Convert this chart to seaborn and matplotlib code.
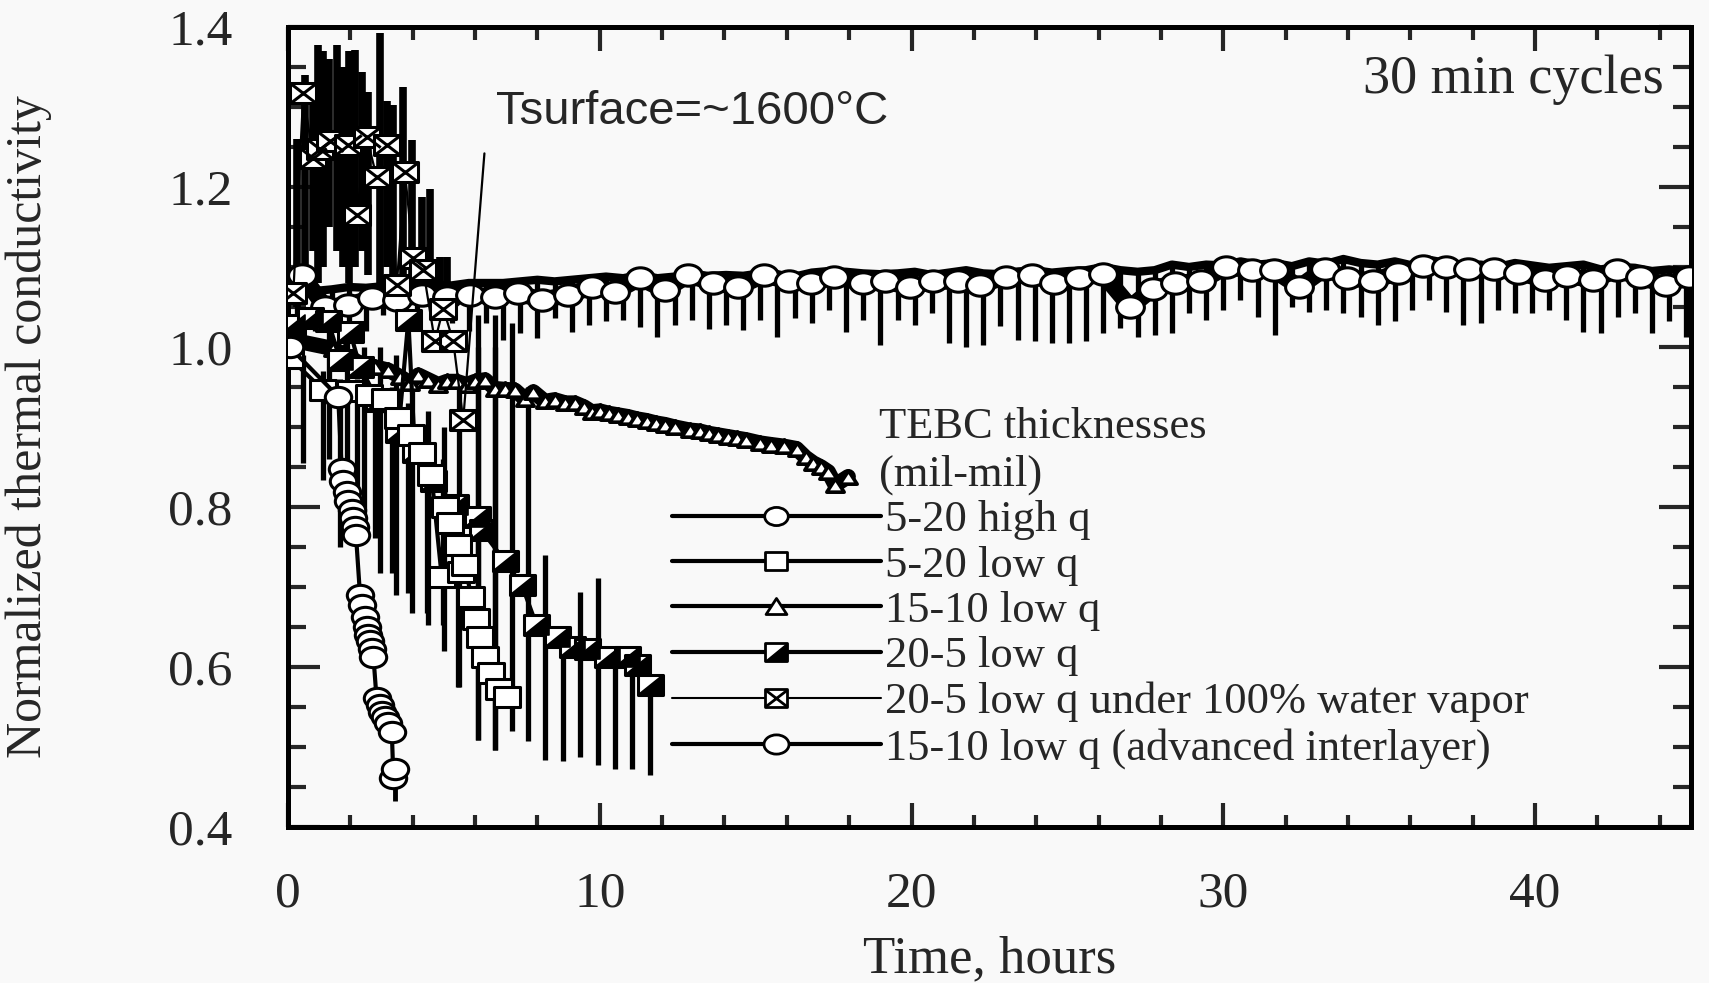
import numpy as np
import matplotlib
matplotlib.use("Agg")
import matplotlib.pyplot as plt
import seaborn as sns
from matplotlib.path import Path
from matplotlib.lines import Line2D
from matplotlib.legend_handler import HandlerTuple
from matplotlib.ticker import MultipleLocator, FormatStrFormatter

# ============================================================
# data (time in hours, normalized k)
# ============================================================
# 5-20 high q (small open circles)
hq_t = [0.05, 1.61, 1.72, 1.77, 1.88, 1.93, 2.04, 2.09, 2.15, 2.18, 2.31, 2.36, 2.47,
        2.52, 2.58, 2.63, 2.68, 2.74, 2.84, 2.95, 3.0, 3.11, 3.22, 3.33, 3.38, 3.43]
hq_v = [1.0, 0.938, 0.848, 0.832, 0.819, 0.807, 0.796, 0.786, 0.775, 0.765, 0.69, 0.678, 0.663,
        0.65, 0.64, 0.632, 0.623, 0.613, 0.561, 0.553, 0.544, 0.538, 0.53, 0.519, 0.461, 0.473]
hq_spk_t = [3.43]
hq_spk_lo = [0.432]
hq_spk_hi = [0.473]

# 5-20 low q (open squares)
sq_t = [0.06, 1.13, 2.0, 2.6, 3.11, 3.54, 3.95, 4.3, 4.6, 4.93, 5.03, 5.2, 5.45, 5.55,
        5.69, 5.87, 6.04, 6.15, 6.32, 6.5, 6.77, 7.02]
sq_v = [0.986, 0.946, 0.945, 0.94, 0.935, 0.911, 0.89, 0.867, 0.84, 0.713, 0.80, 0.78, 0.7525, 0.719,
        0.728, 0.687, 0.66, 0.637, 0.6125, 0.592, 0.573, 0.562]
sq_spk_t = [0.48, 1.13, 1.67, 2.2, 2.79, 3.33, 3.86, 4.45, 4.98, 5.46, 6.1, 6.64]
sq_spk_lo = [0.855, 0.834, 0.75, 0.78, 0.761, 0.717, 0.692, 0.667, 0.6525, 0.575, 0.509, 0.496]
sq_spk_hi = [0.99, 0.97, 0.96, 0.96, 0.95, 0.95, 0.93, 0.90, 0.86, 0.80, 1.0, 1.0]

# 15-10 low q (open triangles)
tri_t = [0.05, 0.33, 1.45, 2.3, 2.8, 3.22, 3.59, 3.91, 4.18, 4.5, 4.82, 5.1, 5.41, 5.73, 6.0,
         6.32, 6.64, 6.95, 7.28, 7.6, 7.87, 8.24, 8.55, 8.9, 9.2, 9.5, 9.74, 10.0, 10.3, 10.6,
         10.9, 11.2, 11.5, 11.8, 12.1, 12.4, 12.9, 13.2, 13.5, 13.8, 14.1, 14.4, 14.7, 15.14,
         15.5, 15.9, 16.31, 16.6, 16.85, 17.1, 17.33, 17.55, 17.97]
tri_v = [1.0, 1.007, 0.998, 0.98, 0.975, 0.971, 0.963, 0.955, 0.965, 0.959, 0.953, 0.957, 0.957,
         0.953, 0.957, 0.959, 0.948, 0.947, 0.946, 0.935, 0.944, 0.932, 0.934, 0.93, 0.93, 0.925,
         0.919, 0.92, 0.917, 0.915, 0.913, 0.91, 0.908, 0.905, 0.903, 0.90, 0.896, 0.895, 0.892,
         0.89, 0.888, 0.886, 0.884, 0.88, 0.878, 0.876, 0.873, 0.862, 0.855, 0.85, 0.844, 0.8275, 0.838]

# 20-5 low q (half filled squares)
hf_t = [0.12, 0.71, 1.29, 1.67, 1.99, 2.31, 2.9, 3.54, 3.86, 4.07, 4.66, 5.36, 6.05, 6.21,
        6.96, 7.5, 7.97, 8.62, 9.1, 9.58, 10.22, 10.86, 11.18, 11.61]
hf_v = [1.0275, 1.036, 1.032, 0.984, 1.019, 0.975, 0.932, 0.894, 1.034, 0.869, 0.832, 0.8025,
        0.788, 0.771, 0.732, 0.7025, 0.6525, 0.638, 0.625, 0.623, 0.613, 0.613, 0.6025, 0.5775]
hf_spk_t = [1.3, 1.9, 2.45, 2.95, 3.45, 3.97, 4.5, 5.0, 5.5, 6.1, 6.64, 7.2, 7.71, 8.24,
            8.83, 9.36, 9.95, 10.49, 11.02, 11.61]
hf_spk_lo = [0.86, 0.80, 0.763, 0.717, 0.69, 0.668, 0.652, 0.62, 0.575, 0.509, 0.496, 0.52,
             0.507, 0.484, 0.482, 0.488, 0.478, 0.473, 0.473, 0.465]
hf_spk_hi = [1.03, 1.03, 1.0, 1.0, 0.99, 0.95, 0.92, 0.90, 0.95, 1.04, 1.04, 1.03, 0.95,
             0.74, 0.64, 0.694, 0.711, 0.62, 0.615, 0.58]

# 20-5 low q under 100% water vapor (crossed squares)
wv_t = [0.17, 0.49, 0.81, 1.03, 1.35, 1.93, 2.2, 2.52, 2.84, 3.17, 3.49, 3.75, 4.02, 4.34,
        4.71, 4.98, 5.3, 5.62, 6.3]
wv_v = [1.067, 1.317, 1.236, 1.248, 1.257, 1.2525, 1.165, 1.263, 1.213, 1.2525, 1.0775, 1.219,
        1.111, 1.096, 1.007, 1.048, 1.007, 0.909, 1.242]
wv_spk_t = [0.3, 0.55, 0.8, 0.97, 1.13, 1.3, 1.56, 1.75, 1.95, 2.15, 2.36, 2.58, 2.95, 3.17,
            3.38, 3.7, 3.97, 4.29, 4.55, 4.87, 5.09]
wv_spk_hi = [1.26, 1.34, 1.33, 1.3775, 1.37, 1.36, 1.3775, 1.35, 1.37, 1.371, 1.344, 1.319,
             1.392, 1.307, 1.3025, 1.325, 1.259, 1.188, 1.198, 1.113, 1.113]
wv_spk_lo = [1.05, 1.1, 1.12, 1.08, 1.1, 1.15, 1.12, 1.10, 1.08, 1.1, 1.12, 1.09, 1.08, 1.1,
             1.06, 1.08, 1.07, 1.06, 1.05, 1.04, 1.04]

# 15-10 low q (advanced interlayer) (large open ovals)
adv_t = [0.44, 1.19, 1.93, 2.68, 3.49, 4.29, 5.09, 5.84, 6.64, 7.39, 8.14, 8.99, 9.74, 10.49,
         11.29, 12.09, 12.84, 13.64, 14.44, 15.26, 16.08, 16.79, 17.51, 18.43, 19.14, 19.96,
         20.68, 21.5, 22.21, 23.03, 23.85, 24.56, 25.38, 26.14, 27.02, 27.74, 28.45, 29.27,
         30.09, 30.91, 31.62, 32.44, 33.26, 33.97, 34.79, 35.61, 36.39, 37.15, 37.86, 38.68,
         39.46, 40.31, 41.03, 41.85, 42.63, 43.38, 44.2, 44.92]
adv_v = [1.09, 1.05, 1.0525, 1.061, 1.059, 1.065, 1.063, 1.065, 1.063, 1.067, 1.059, 1.065,
         1.075, 1.069, 1.086, 1.071, 1.09, 1.08, 1.075, 1.09, 1.082, 1.08, 1.088, 1.08, 1.082,
         1.075, 1.082, 1.082, 1.0775, 1.088, 1.09, 1.08, 1.086, 1.091, 1.05, 1.073, 1.08, 1.082,
         1.10, 1.096, 1.096, 1.075, 1.098, 1.086, 1.083, 1.093, 1.101, 1.10, 1.097, 1.097,
         1.093, 1.084, 1.089, 1.084, 1.096, 1.087, 1.0775, 1.087]
adv_spk_t = [0.3, 0.85, 1.4, 1.95, 2.5, 3.05, 3.6, 4.15, 4.7, 5.25, 5.8, 6.35, 6.9, 7.45, 8.0,
             8.55, 9.1, 9.65, 10.2, 10.75, 11.3, 11.85, 12.4, 12.95, 13.5, 14.05, 14.6, 15.15,
             15.7, 16.25, 16.8, 17.35, 17.9, 18.45, 19.0, 19.55, 20.1, 20.65, 21.2, 21.75, 22.3,
             22.85, 23.4, 23.95, 24.5, 25.05, 25.6, 26.15, 26.7, 27.25, 27.8, 28.35, 28.9, 29.45,
             30.0, 30.55, 31.1, 31.65, 32.2, 32.75, 33.3, 33.85, 34.4, 34.95, 35.5, 36.05, 36.6,
             37.15, 37.7, 38.25, 38.8, 39.35, 39.9, 40.45, 41.0, 41.55, 42.1, 42.65, 43.2, 43.75,
             44.3, 44.85]
adv_spk_lo = [1.03, 1.02, 1.04, 1.03, 1.02, 1.04, 1.03, 1.02, 1.04, 1.03, 1.02, 1.03,
              1.009, 1.017, 1.011, 1.036, 1.019, 1.028, 1.032, 1.034, 1.025, 1.013, 1.028, 1.034, 1.023,
              1.028, 1.021, 1.034, 1.013, 1.036, 1.03, 1.046, 1.019, 1.034,
              1.003, 1.034, 1.028, 1.042, 1.005, 1.0, 1.003, 1.026, 1.009, 1.007, 1.005, 1.005,
              1.007, 1.017, 1.024, 1.013, 1.015, 1.017, 1.042, 1.034, 1.046, 1.059, 1.038, 1.015,
              1.05, 1.044, 1.046, 1.042, 1.038, 1.028, 1.032, 1.046, 1.059, 1.044, 1.028, 1.03,
              1.046, 1.042, 1.042, 1.046, 1.034, 1.019, 1.017, 1.038, 1.042, 1.017, 1.032, 1.013]
adv_spk_hi = [1.075, 1.07, 1.072, 1.075, 1.074, 1.076, 1.077, 1.076, 1.078, 1.077, 1.08, 1.08,
              1.08, 1.082, 1.084, 1.082, 1.084, 1.086, 1.088, 1.086, 1.09, 1.086, 1.088, 1.09, 1.089,
              1.09, 1.089, 1.092, 1.09, 1.088, 1.093, 1.095, 1.094, 1.092,
              1.091, 1.092, 1.094, 1.09, 1.093, 1.096, 1.092, 1.091, 1.094, 1.096, 1.093, 1.095,
              1.096, 1.1, 1.096, 1.094, 1.096, 1.103, 1.1, 1.103, 1.102, 1.107, 1.103, 1.105,
              1.101, 1.107, 1.104, 1.11, 1.105, 1.103, 1.107, 1.102, 1.109, 1.105, 1.101, 1.103,
              1.1, 1.105, 1.102, 1.099, 1.101, 1.103, 1.097, 1.1, 1.099, 1.095, 1.097, 1.095]

labels = ["5-20 high q", "5-20 low q", "15-10 low q", "20-5 low q",
          "20-5 low q under 100% water vapor", "15-10 low q (advanced interlayer)"]

# ============================================================
# marker shapes (slightly wide, like the scanned original)
# ============================================================
SX = 1.3
_c = Path.unit_circle()
OVAL = Path(_c.vertices * [SX, 1.0], _c.codes)
SQUARE = Path([(-SX, -1), (SX, -1), (SX, 1), (-SX, 1), (-SX, -1)],
              [Path.MOVETO, Path.LINETO, Path.LINETO, Path.LINETO, Path.CLOSEPOLY])
LOWER_RIGHT = Path([(-SX, -1), (SX, -1), (SX, 1), (-SX, -1)],
                   [Path.MOVETO, Path.LINETO, Path.LINETO, Path.CLOSEPOLY])
CROSS = Path([(-SX, -1), (SX, 1), (-SX, 1), (SX, -1)],
             [Path.MOVETO, Path.LINETO, Path.MOVETO, Path.LINETO])
TRI = Path([(-SX, -1), (SX, -1), (0, 1), (-SX, -1)],
           [Path.MOVETO, Path.LINETO, Path.LINETO, Path.CLOSEPOLY])

sns.set_style("ticks")
plt.rcParams['font.family'] = ['Liberation Serif', 'DejaVu Serif']
BG = '#f9f9f9'

fig = plt.figure(figsize=(17.09, 9.83), dpi=100, facecolor=BG)
ax = fig.add_axes([0.16852, 0.15870, 0.82095, 0.81384], facecolor=BG)

common = dict(ax=ax, color='k', estimator=None, sort=False, mfc='w', mec='k', mew=2.2)

# 15-10 low q advanced interlayer: dense band (upper envelope) + downward cycle spikes
ax.vlines(adv_spk_t, adv_spk_lo, adv_spk_hi, colors='k', lw=3.8, zorder=2)
ax.plot(adv_spk_t, adv_spk_hi, color='k', lw=6, solid_joinstyle='round', zorder=2)
sns.lineplot(x=adv_t, y=adv_v, lw=12, marker=OVAL, ms=20, zorder=3, **common)

# 15-10 low q
sns.lineplot(x=tri_t, y=tri_v, lw=11, marker=TRI, ms=12.5, zorder=4,
             ax=ax, color='k', estimator=None, sort=False, mfc='w', mec='k', mew=2.6)

# 20-5 low q
ax.vlines(hf_spk_t, hf_spk_lo, hf_spk_hi, colors='k', lw=3.8, zorder=2)
sns.lineplot(x=hf_t, y=hf_v, lw=3, marker=SQUARE, ms=18, zorder=5, **common)
ax.plot(hf_t, hf_v, ls='none', marker=LOWER_RIGHT, ms=18, mfc='k', mec='k', mew=1.2, zorder=5)

# 5-20 low q
ax.vlines(sq_spk_t, sq_spk_lo, sq_spk_hi, colors='k', lw=3.8, zorder=2)
sns.lineplot(x=sq_t, y=sq_v, lw=3, marker=SQUARE, ms=19, zorder=6, **common)

# 5-20 high q
ax.vlines(hq_spk_t, hq_spk_lo, hq_spk_hi, colors='k', lw=3.5, zorder=2)
sns.lineplot(x=hq_t, y=hq_v, lw=3, marker=OVAL, ms=19, zorder=6, **common)

# water vapor
ax.vlines(wv_spk_t, wv_spk_lo, wv_spk_hi, colors='k', lw=5.5, zorder=2)
sns.lineplot(x=wv_t, y=wv_v, lw=1.6, marker=SQUARE, ms=19, zorder=7,
             markevery=list(range(len(wv_t) - 1)), **common)
ax.plot(wv_t[:-1], wv_v[:-1], ls='none', marker=CROSS, ms=19, mfc='none', mec='k', mew=2.2, zorder=7)

# axes
ax.set_xlim(0, 45)
ax.set_ylim(0.4, 1.4)
ax.xaxis.set_major_locator(MultipleLocator(10))
ax.xaxis.set_minor_locator(MultipleLocator(2))
ax.yaxis.set_major_locator(MultipleLocator(0.2))
ax.yaxis.set_minor_locator(MultipleLocator(0.05))
ax.yaxis.set_major_formatter(FormatStrFormatter('%.1f'))
ax.tick_params(which='both', direction='in', top=True, right=True, width=3, labelsize=37)
ax.tick_params(axis='x', which='major', length=17, pad=32)
ax.tick_params(axis='x', which='minor', length=9)
ax.tick_params(axis='y', which='major', length=23, pad=40)
ax.tick_params(axis='y', which='minor', length=13)
for s in ax.spines.values():
    s.set_linewidth(3.6)
    s.set_color('k')

ax.set_xlabel("Time, hours", fontsize=38)
ax.set_ylabel("Normalized thermal conductivity", fontsize=36)
ax.xaxis.set_label_coords(0.5, -0.135)
ax.yaxis.set_label_coords(-0.168, 0.5)

fig.text(496 / 1709, 1 - 112 / 983, "Tsurface=~1600°C", family='Liberation Sans',
         fontsize=34, va='center', ha='left')
fig.text(1664 / 1709, 1 - 80 / 983, "30 min cycles", fontsize=39, va='center', ha='right')
fig.text(879 / 1709, 1 - 427 / 983, "TEBC thicknesses", fontsize=32, va='center', ha='left')
fig.text(879 / 1709, 1 - 475 / 983, "(mil-mil)", fontsize=32, va='center', ha='left')

# legend with composite markers
lk = dict(color='k', mfc='w', mec='k', mew=2.0)
h_hq = Line2D([], [], lw=3, marker=OVAL, ms=17, **lk)
h_sq = Line2D([], [], lw=3, marker=SQUARE, ms=16, **lk)
h_tri = Line2D([], [], lw=3, marker=TRI, ms=15, **lk)
h_hf = (Line2D([], [], lw=3, marker=SQUARE, ms=16, **lk),
        Line2D([], [], ls='none', marker=LOWER_RIGHT, ms=16, mfc='k', mec='k'))
h_wv = (Line2D([], [], lw=1.5, marker=SQUARE, ms=16, **lk),
        Line2D([], [], ls='none', marker=CROSS, ms=16, mfc='none', mec='k', mew=2.0))
h_adv = Line2D([], [], lw=3, marker=OVAL, ms=18, **lk)
leg = ax.legend([h_hq, h_sq, h_tri, h_hf, h_wv, h_adv], labels,
                handler_map={tuple: HandlerTuple(ndivide=1, pad=0)},
                loc='upper left', bbox_to_anchor=(672 / 1709, 1 - 500 / 983),
                bbox_transform=fig.transFigure, frameon=False, fontsize=32,
                borderpad=0, borderaxespad=0, handlelength=4.7, handletextpad=0.1,
                labelspacing=0.12)

fig.savefig("out.png", dpi=100, facecolor=BG)
